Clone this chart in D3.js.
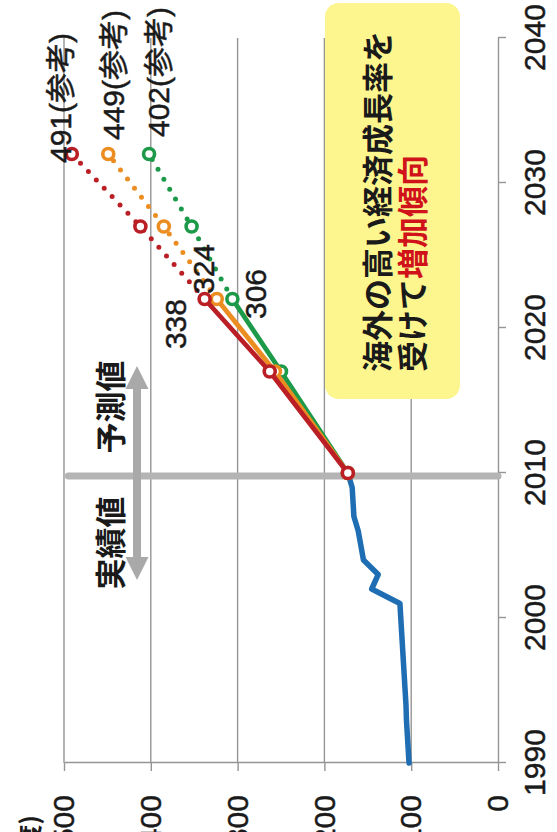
<!DOCTYPE html>
<html>
<head>
<meta charset="utf-8">
<script src="https://cdn.jsdelivr.net/npm/d3@7"></script>
<style>
  html, body { margin: 0; padding: 0; background: #fff; }
  svg { display: block; }
</style>
</head>
<body>
<script>
// Actual values, fiscal years 1990-2010
const actualYears = d3.range(1990, 2011);
const actualValues = [102.5, 103.5, 104.5, 105.5, 106, 107, 108, 109, 110, 111, 112,
                      113, 145.5, 138, 155, 158, 161, 166, 167, 168, 173];

// Forecast cases (solid) and reference extensions (dotted)
const forecastYears = [2010, 2017, 2022];
const referenceYears = [2022, 2027, 2032];
const highForecast = [173, 263, 338];
const highReference = [338, 412, 491];
const midForecast = [173, 257, 324];
const midReference = [324, 385, 449];
const lowForecast = [173, 250, 306];
const lowReference = [306, 353, 402];

// Axis ticks
const yearTicks = [1990, 2000, 2010, 2020, 2030, 2040];
const valueTicks = [0, 100, 200, 300, 400, 500];

// Texts
const unitLabel = "(万トン/年度)";
const actualLabel = "実績値";
const forecastLabel = "予測値";
const noteLine1 = "海外の高い経済成長率を";
const noteLine2a = "受けて";
const noteLine2b = "増加傾向";
const refSuffix = "(参考)";

const W = 557, H = 832;
const numFont = "'Liberation Sans', Arial, 'Noto Sans CJK JP', sans-serif";
const jpFont = "'Noto Sans CJK JP', 'Noto Sans', sans-serif";
const ink = "#1a1a1a";

const svg = d3.select("body").append("svg")
  .attr("width", W).attr("height", H)
  .attr("viewBox", `0 0 ${W} ${H}`);

// The chart is laid out in an 832-wide frame and turned a quarter turn
const g = svg.append("g").attr("transform", `translate(0,${H}) rotate(-90)`);

const x = d3.scaleLinear().domain([1990, 2040]).range([69, 794]);
const y = d3.scaleLinear().domain([0, 500]).range([498, 64]);

const gridColor = "#959595";

// Horizontal gridlines
g.append("g").selectAll("line")
  .data(valueTicks.filter(v => v > 0))
  .join("line")
  .attr("x1", x(1990)).attr("x2", x(2040))
  .attr("y1", d => y(d)).attr("y2", d => y(d))
  .attr("stroke", gridColor).attr("stroke-width", 1.4);

// Axes
const xAxis = g.append("g")
  .attr("transform", `translate(0,${y(0)})`)
  .call(d3.axisBottom(x).tickValues(yearTicks).tickFormat(d3.format("d"))
    .tickSize(8).tickSizeOuter(0).tickPadding(18));
const yAxis = g.append("g")
  .attr("transform", `translate(${x(1990)},0)`)
  .call(d3.axisLeft(y).tickValues(valueTicks).tickSize(8).tickSizeOuter(0).tickPadding(24));
[xAxis, yAxis].forEach(a => {
  a.select(".domain").attr("stroke", gridColor).attr("stroke-width", 1.4);
  a.selectAll(".tick line").attr("stroke", gridColor).attr("stroke-width", 1.4);
  a.selectAll("text").attr("font-family", numFont).attr("font-size", 30)
    .attr("fill", ink).attr("stroke", ink).attr("stroke-width", 0.5);
});

// Unit label above the value axis
g.append("text")
  .attr("x", 17).attr("y", 28)
  .attr("text-anchor", "end").attr("dominant-baseline", "central")
  .attr("font-family", jpFont).attr("font-size", 25).attr("font-weight", 700)
  .attr("fill", ink)
  .text(unitLabel);

// Divider between actual and forecast periods
g.append("line")
  .attr("x1", x(2010) - 3).attr("x2", x(2010) - 3)
  .attr("y1", y(495)).attr("y2", y(0))
  .attr("stroke", "#b4b4b4").attr("stroke-width", 7).attr("stroke-linecap", "round");

// Double arrow across the divider
const ax = x(2010), ay = 137, half = 107, head = 23, hw = 11.5, shaft = 4;
g.append("path")
  .attr("d", `M${ax - half},${ay} L${ax - half + head},${ay - hw} L${ax - half + head},${ay - shaft}
              L${ax + half - head},${ay - shaft} L${ax + half - head},${ay - hw} L${ax + half},${ay}
              L${ax + half - head},${ay + hw} L${ax + half - head},${ay + shaft}
              L${ax - half + head},${ay + shaft} L${ax - half + head},${ay + hw} Z`)
  .attr("fill", "#a9a9a9");

[[actualLabel, -70], [forecastLabel, 66]].forEach(([t, dx]) => {
  g.append("text")
    .attr("x", x(2010) + dx).attr("y", 108)
    .attr("text-anchor", "middle").attr("dominant-baseline", "central")
    .attr("font-family", jpFont).attr("font-size", 31).attr("font-weight", 700)
    .attr("fill", ink)
    .text(t);
});

// Note box
g.append("rect")
  .attr("x", 433).attr("y", 325).attr("width", 396).attr("height", 135)
  .attr("rx", 14).attr("ry", 14)
  .attr("fill", "#fdf58e");
g.append("text")
  .attr("x", 460).attr("y", 375)
  .attr("dominant-baseline", "central")
  .attr("font-family", jpFont).attr("font-size", 31).attr("font-weight", 700)
  .attr("fill", ink)
  .text(noteLine1);
const line2 = g.append("text")
  .attr("x", 460).attr("y", 410)
  .attr("dominant-baseline", "central")
  .attr("font-family", jpFont).attr("font-size", 31).attr("font-weight", 700)
  .attr("fill", ink);
line2.append("tspan").text(noteLine2a);
line2.append("tspan").attr("fill", "#d0121b").text(noteLine2b);

// Actual series
const line = d3.line().x(d => x(d[0])).y(d => y(d[1]));
g.append("path")
  .datum(actualYears.map((yr, i) => [yr, actualValues[i]]))
  .attr("d", line)
  .attr("fill", "none").attr("stroke", "#1f6db2").attr("stroke-width", 5.5)
  .attr("stroke-linejoin", "round").attr("stroke-linecap", "round");

// Forecast cases, drawn low to high so the high case sits on top
const cases = [
  { color: "#1c9a4a", forecast: lowForecast, reference: lowReference,
    label: { dx: -20, dy: 34, anchor: "start" }, ref: { dx: 17, dy: 20 } },
  { color: "#ec8d22", forecast: midForecast, reference: midReference,
    label: { dx: 5, dy: -3, anchor: "start" }, ref: { dx: 14, dy: 16 } },
  { color: "#bb1f26", forecast: highForecast, reference: highReference,
    label: { dx: 0, dy: -19, anchor: "end" }, ref: { dx: -9, dy: -1 } }
];

cases.forEach(c => {
  const solid = forecastYears.map((yr, i) => [yr, c.forecast[i]]);
  const dotted = referenceYears.map((yr, i) => [yr, c.reference[i]]);
  g.append("path").datum(dotted).attr("d", line)
    .attr("fill", "none").attr("stroke", c.color).attr("stroke-width", 5)
    .attr("stroke-linecap", "round").attr("stroke-dasharray", "0 11.5");
  g.append("path").datum(solid).attr("d", line)
    .attr("fill", "none").attr("stroke", c.color).attr("stroke-width", 4.8)
    .attr("stroke-linejoin", "round");
  g.append("g").selectAll("circle")
    .data(solid.concat(dotted.slice(1)))
    .join("circle")
    .attr("cx", d => x(d[0])).attr("cy", d => y(d[1])).attr("r", 5.5)
    .attr("fill", "#fff").attr("stroke", c.color).attr("stroke-width", 3.6);
});

// Value labels
cases.forEach(c => {
  const last = forecastYears.length - 1;
  g.append("text")
    .attr("x", x(forecastYears[last]) + c.label.dx)
    .attr("y", y(c.forecast[last]) + c.label.dy)
    .attr("text-anchor", c.label.anchor)
    .attr("font-family", numFont).attr("font-size", 30)
    .attr("fill", ink).attr("stroke", ink).attr("stroke-width", 0.5)
    .text(c.forecast[last]);
  const rl = referenceYears.length - 1;
  g.append("text")
    .attr("x", x(referenceYears[rl]) + c.ref.dx)
    .attr("y", y(c.reference[rl]) + c.ref.dy)
    .attr("font-family", numFont).attr("font-size", 30)
    .attr("fill", ink).attr("stroke", ink).attr("stroke-width", 0.5)
    .text(c.reference[rl] + refSuffix);
});
</script>
</body>
</html>
